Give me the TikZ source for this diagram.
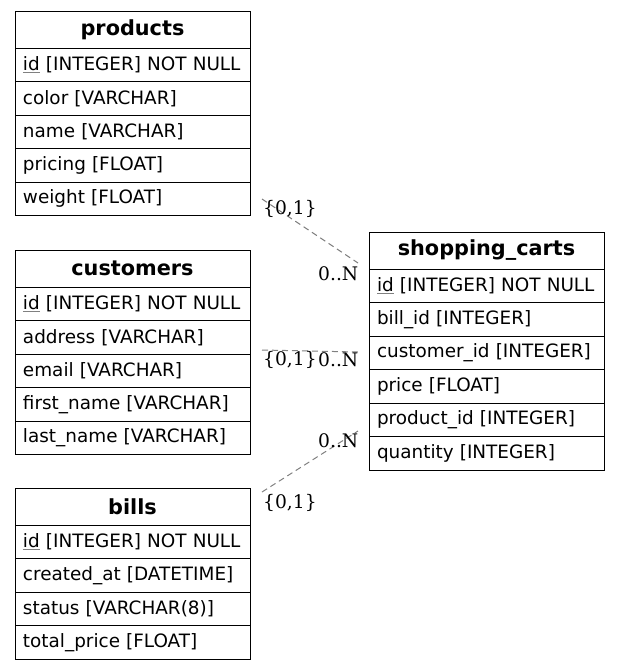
\documentclass[tikz,border=0pt]{standalone}
\usepackage{fontspec}
\setmainfont{DejaVu Sans}
\newfontfamily\lblfont{DejaVu Serif}
\newcommand{\pk}[1]{{\color{gray}\underline{\color{black}#1}}}
\begin{document}
\begin{tikzpicture}[x=1pt,y=-1pt,
  hdr/.style={draw, line width=1pt, outer sep=0pt, minimum width=235pt, minimum height=37pt, anchor=north west, inner sep=0pt, font=\fontsize{20.8}{24}\selectfont\bfseries},
  row/.style={draw, line width=1pt, outer sep=0pt, minimum height=33.5pt, anchor=north west, text width=219pt, inner xsep=8pt, inner ysep=0pt, align=left, font=\fontsize{18.4}{22}\selectfont},
  rel/.style={draw=gray, line width=1pt, dash pattern=on 6pt off 4pt},
  lbl/.style={anchor=west, inner sep=0pt, font=\lblfont\fontsize{18.67}{22}\selectfont}]
\useasboundingbox (0,0) rectangle (620,670);
% products
\node[hdr] (p0) at (15,11) {products};
\node[row] (p1) at (p0.south west) {\mbox{\pk{id} [INTEGER] NOT NULL}};
\node[row] (p2) at (p1.south west) {color [VARCHAR]};
\node[row] (p3) at (p2.south west) {name [VARCHAR]};
\node[row] (p4) at (p3.south west) {pricing [FLOAT]};
\node[row] (p5) at (p4.south west) {weight [FLOAT]};
% customers
\node[hdr] (c0) at (15,250) {customers};
\node[row] (c1) at (c0.south west) {\mbox{\pk{id} [INTEGER] NOT NULL}};
\node[row] (c2) at (c1.south west) {address [VARCHAR]};
\node[row] (c3) at (c2.south west) {email [VARCHAR]};
\node[row] (c4) at (c3.south west) {first\_name [VARCHAR]};
\node[row] (c5) at (c4.south west) {last\_name [VARCHAR]};
% bills
\node[hdr] (b0) at (15,488) {bills};
\node[row] (b1) at (b0.south west) {\mbox{\pk{id} [INTEGER] NOT NULL}};
\node[row] (b2) at (b1.south west) {created\_at [DATETIME]};
\node[row] (b3) at (b2.south west) {status [VARCHAR(8)]};
\node[row] (b4) at (b3.south west) {total\_price [FLOAT]};
% shopping_carts
\node[hdr] (s0) at (369,232) {shopping\_carts};
\node[row] (s1) at (s0.south west) {\mbox{\pk{id} [INTEGER] NOT NULL}};
\node[row] (s2) at (s1.south west) {bill\_id [INTEGER]};
\node[row] (s3) at (s2.south west) {customer\_id [INTEGER]};
\node[row] (s4) at (s3.south west) {price [FLOAT]};
\node[row] (s5) at (s4.south west) {product\_id [INTEGER]};
\node[row] (s6) at (s5.south west) {quantity [INTEGER]};
% connectors
\coordinate (e1a) at (262,199);
\coordinate (e1b) at (358,263);
\coordinate (e2a) at (262,350);
\coordinate (e2b) at (358,352);
\coordinate (e3a) at (262,492);
\coordinate (e3b) at (358,431);
\draw[rel] (e1a) -- (e1b);
\draw[rel] (e2a) -- (e2b);
\draw[rel] (e3a) -- (e3b);
% labels
\node[lbl] (l1a) at (263,209) {\{0,1\}};
\node[lbl] (l1b) at (318,274) {0..N};
\node[lbl] (l2a) at (263,360) {\{0,1\}};
\node[lbl] (l2b) at (318,360) {0..N};
\node[lbl] (l3a) at (263,503) {\{0,1\}};
\node[lbl] (l3b) at (318,441) {0..N};
\end{tikzpicture}
\end{document}
